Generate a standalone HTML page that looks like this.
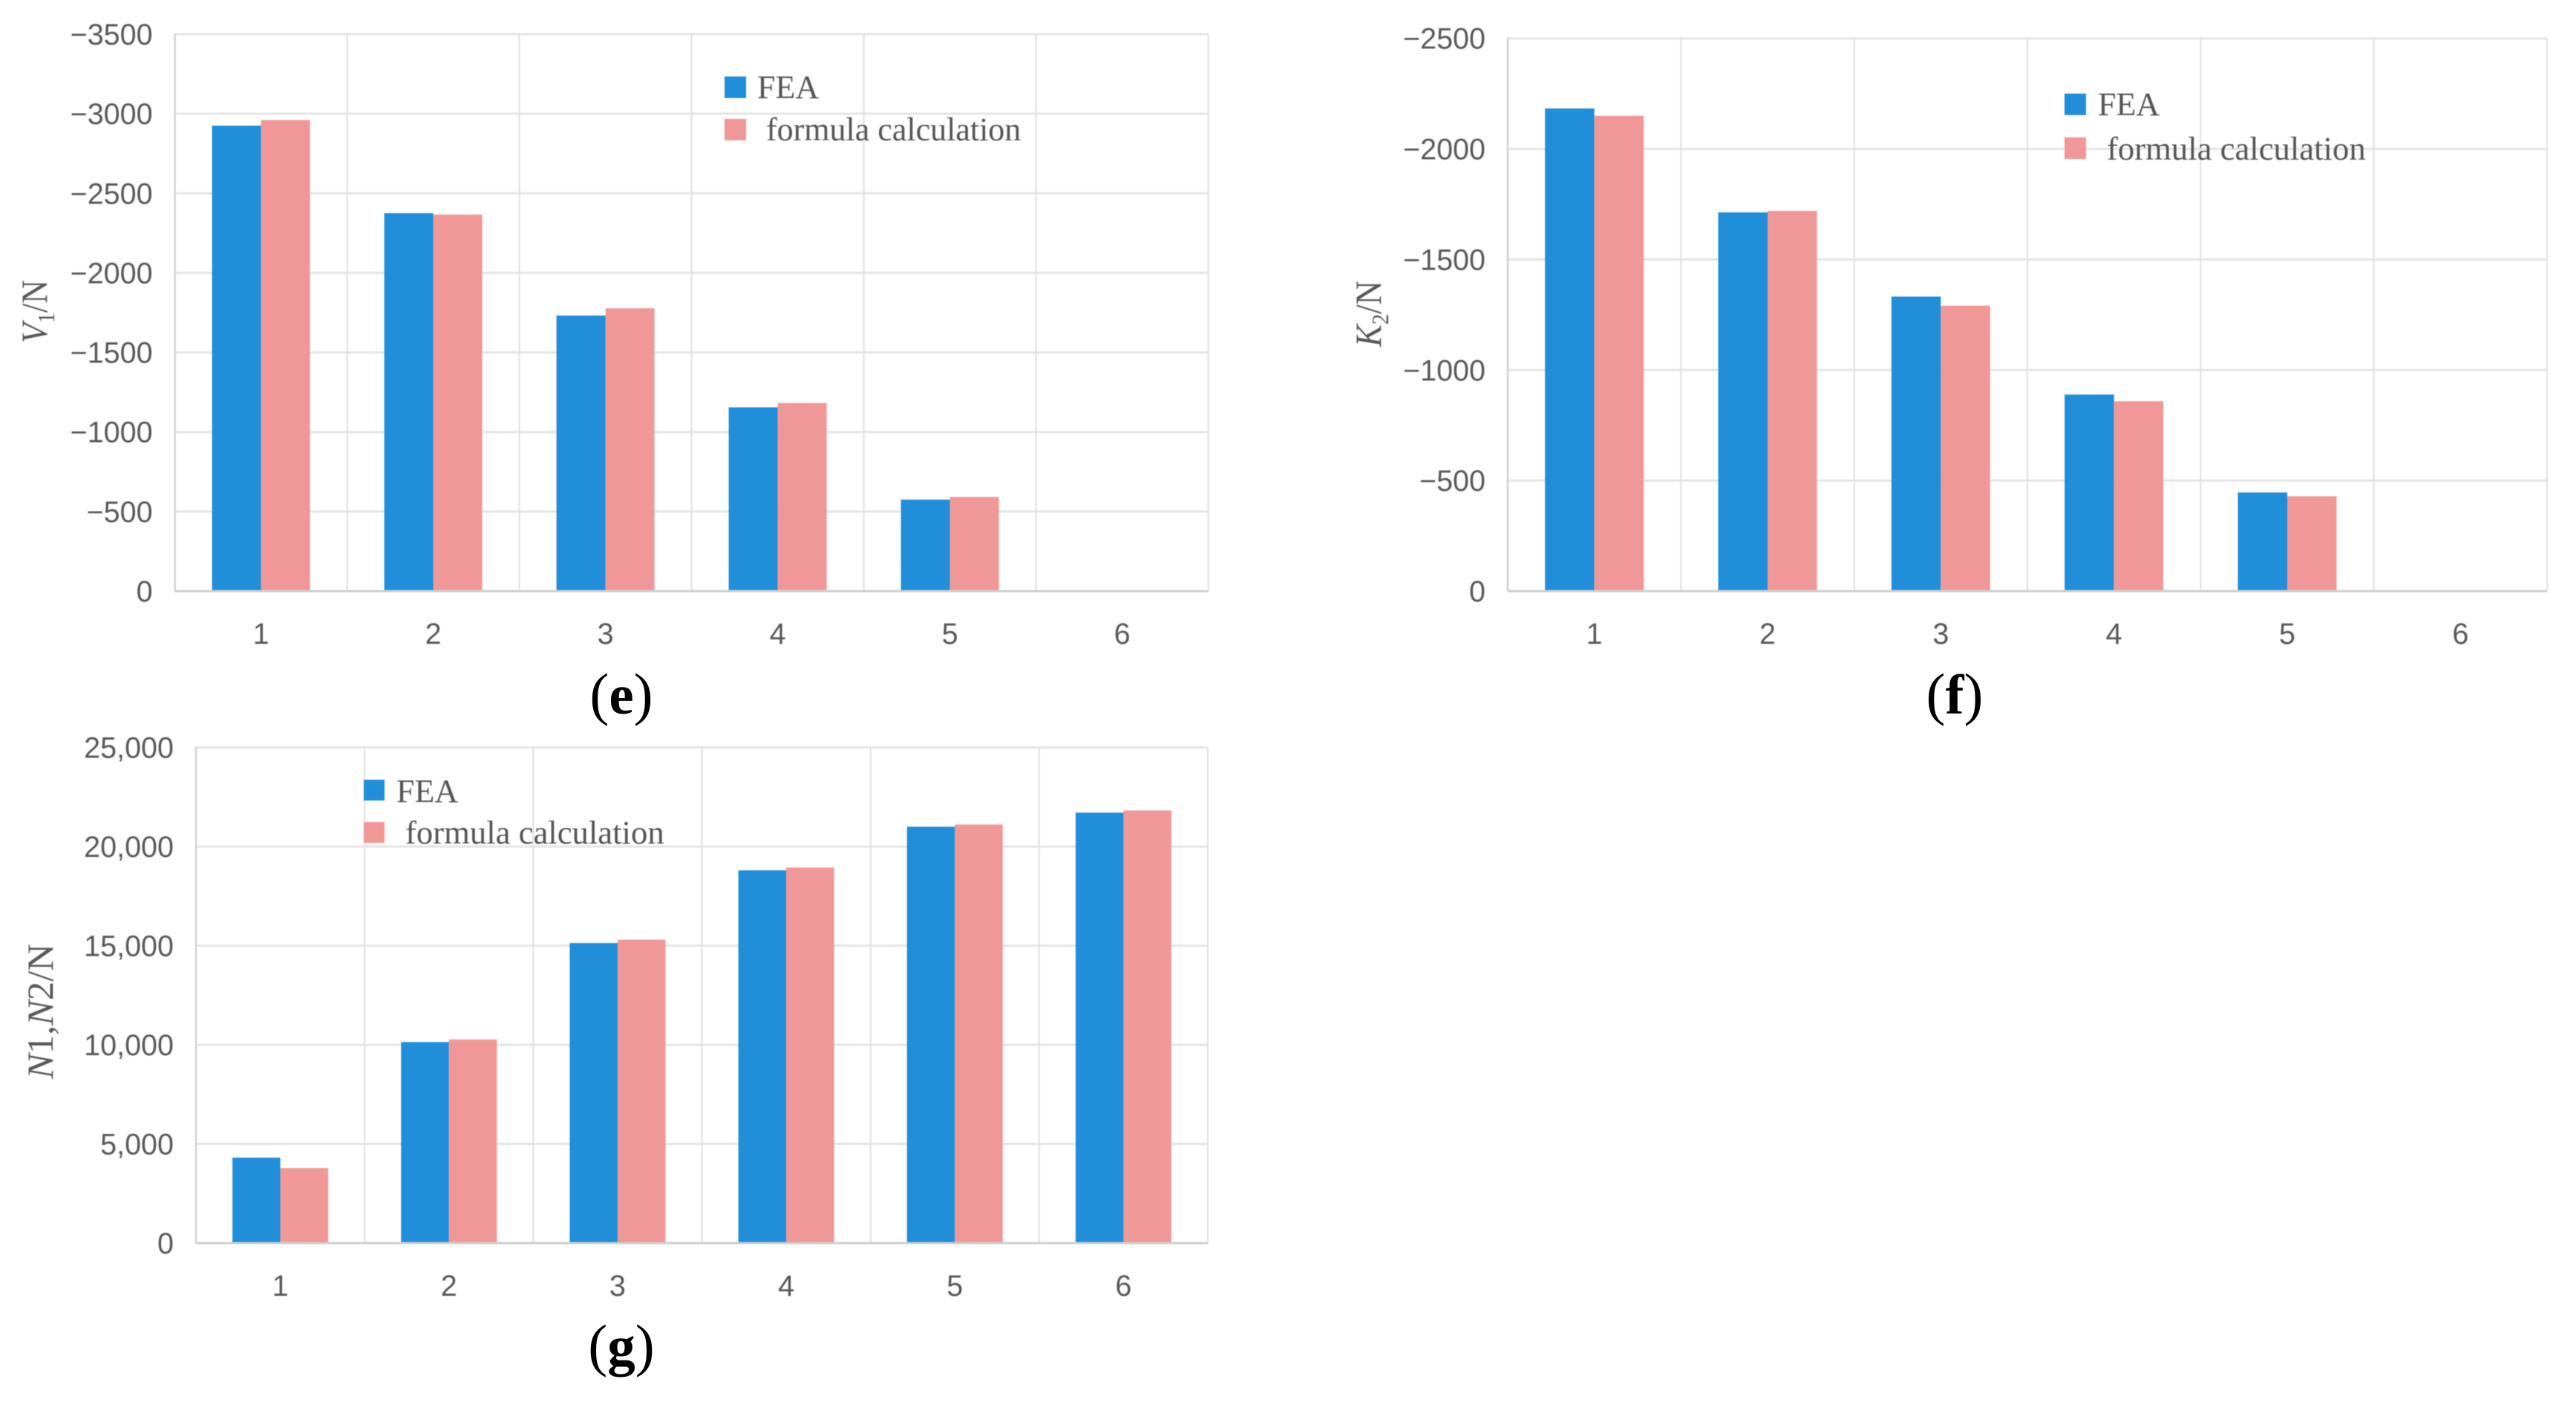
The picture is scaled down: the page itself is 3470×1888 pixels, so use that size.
<!DOCTYPE html>
<html lang="en">
<head>
<meta charset="utf-8">
<title>FEA vs formula calculation bar charts</title>
<style>
html,body{margin:0;padding:0;background:#fff;width:3470px;height:1888px;overflow:hidden}
svg{display:block}
svg g,.ytitle{filter:blur(0.6px)}
.tick{font-family:"Liberation Sans",sans-serif;font-size:39.5px;fill:#595959}
.legend{font-family:"Liberation Serif",serif;font-size:44px;fill:#555}
.ytitle{font-family:"Liberation Serif",serif;font-size:50px;fill:#595959}
.panel{font-family:"Liberation Serif",serif;font-size:78px;font-weight:normal;fill:#000;text-anchor:middle}
.panel tspan{font-size:75px;font-weight:bold}
</style>
</head>
<body>
<svg id="figure" xmlns="http://www.w3.org/2000/svg" width="3470" height="1888" viewBox="0 0 3470 1888">
  <rect width="3470" height="1888" fill="#ffffff"/>
  <g id="chart-e"></g>
  <g id="chart-f"></g>
  <g id="chart-g"></g>

  <g>
    <rect x="976" y="103" width="29" height="29" fill="#208ED8"/>
    <text class="legend" x="1020" y="132">FEA</text>
    <rect x="976" y="160" width="29" height="29" fill="#F09898"/>
    <text class="legend" x="1032" y="189">formula calculation</text>
  </g>
  <g>
    <rect x="2781" y="126" width="29" height="29" fill="#208ED8"/>
    <text class="legend" x="2826" y="155">FEA</text>
    <rect x="2781" y="185" width="29" height="29" fill="#F09898"/>
    <text class="legend" x="2838" y="215" style="font-size:44.7px">formula calculation</text>
  </g>
  <g>
    <rect x="490" y="1050" width="28" height="28" fill="#208ED8"/>
    <text class="legend" x="534" y="1080">FEA</text>
    <rect x="490" y="1107" width="28" height="28" fill="#F09898"/>
    <text class="legend" x="546" y="1136" style="font-size:44.7px">formula calculation</text>
  </g>

  <text class="ytitle" transform="translate(63,462) rotate(-90)" textLength="85" lengthAdjust="spacingAndGlyphs"><tspan font-style="italic">V</tspan><tspan font-size="32" dy="10">1</tspan><tspan dy="-10">/N</tspan></text>
  <text class="ytitle" transform="translate(1860,467) rotate(-90)" textLength="89" lengthAdjust="spacingAndGlyphs"><tspan font-style="italic">K</tspan><tspan font-size="32" dy="10">2</tspan><tspan dy="-10">/N</tspan></text>
  <text class="ytitle" transform="translate(71,1453) rotate(-90)" textLength="182" lengthAdjust="spacingAndGlyphs"><tspan font-style="italic">N</tspan>1,<tspan font-style="italic">N</tspan>2/N</text>

  <text class="panel" x="837" y="961">(<tspan>e</tspan>)</text>
  <text class="panel" x="2633" y="961">(<tspan>f</tspan>)</text>
  <text class="panel" x="837" y="1838">(<tspan>g</tspan>)</text>
</svg>

<script>
// Shared categories
const categories = ['1', '2', '3', '4', '5', '6'];

// Chart (e)
const feaE = [-2925, -2375, -1732, -1155, -575, 0];
const formulaE = [-2960, -2366, -1777, -1182, -592, 0];
const tickValuesE = [0, -500, -1000, -1500, -2000, -2500, -3000, -3500];
const tickLabelsE = ['0', '\u2212500', '\u22121000', '\u22121500', '\u22122000', '\u22122500', '\u22123000', '\u22123500'];

// Chart (f)
const feaF = [-2183, -1713, -1332, -889, -446, 0];
const formulaF = [-2150, -1720, -1291, -859, -429, 0];
const tickValuesF = [0, -500, -1000, -1500, -2000, -2500];
const tickLabelsF = ['0', '\u2212500', '\u22121000', '\u22121500', '\u22122000', '\u22122500'];

// Chart (g)
const feaG = [4310, 10140, 15130, 18800, 21000, 21710];
const formulaG = [3780, 10270, 15300, 18940, 21110, 21820];
const tickValuesG = [0, 5000, 10000, 15000, 20000, 25000];
const tickLabelsG = ['0', '5,000', '10,000', '15,000', '20,000', '25,000'];

const SVG_NS = 'http://www.w3.org/2000/svg';

function make(parent, tag, attrs, text) {
  const el = document.createElementNS(SVG_NS, tag);
  for (const k in attrs) el.setAttribute(k, attrs[k]);
  if (text !== undefined) el.textContent = text;
  parent.appendChild(el);
  return el;
}

function drawChart(groupId, frame, cats, fea, formula, tickValues, tickLabels) {
  const g = document.getElementById(groupId);
  const suffix = groupId.replace('chart-', '');
  const domainEnd = tickValues[tickValues.length - 1];
  const plotH = frame.bottom - frame.top;
  const plotW = frame.right - frame.left;
  const yOf = function (v) { return frame.bottom - (v / domainEnd) * plotH; };
  const band = plotW / cats.length;
  const xOf = function (i) { return frame.left + band * i; };

  // horizontal gridlines + y tick labels
  tickValues.forEach(function (v, i) {
    const y = yOf(v);
    if (v !== 0) {
      const line = make(g, 'line', { x1: frame.left, x2: frame.right, y1: y, y2: y, stroke: '#e5e5e5', 'stroke-width': 3 });
      
      
    }
    const label = make(g, 'text', { class: 'tick', x: frame.left - 30, y: y + 14, 'text-anchor': 'end' }, tickLabels[i]);
    
    
  });

  // vertical gridlines
  for (let i = 1; i <= cats.length; i++) {
    const x = xOf(i);
    const vline = make(g, 'line', { x1: x, x2: x, y1: frame.top, y2: frame.bottom, stroke: '#e2e2e2', 'stroke-width': 2.2 });
    
    
  }

  // axes
  const leftAxis = make(g, 'line', { x1: frame.left, x2: frame.left, y1: frame.top - 1, y2: frame.bottom, stroke: '#d2d2d2', 'stroke-width': 2.6 });
  
  

  // bars + category labels
  cats.forEach(function (c, i) {
    const center = xOf(i) + band / 2;
    const y0 = yOf(0);
    const yFea = yOf(fea[i]);
    const yFormula = yOf(formula[i]);
    const barFea = make(g, 'rect', { x: center - frame.barW, y: yFea, width: frame.barW, height: y0 - yFea, fill: '#208ED8' });
    
    
    const barFormula = make(g, 'rect', { x: center, y: yFormula, width: frame.barW, height: y0 - yFormula, fill: '#F09898' });
    
    
    const catLabel = make(g, 'text', { class: 'tick', x: center, y: frame.bottom + frame.catOffset, 'text-anchor': 'middle' }, c);
    
    
  });

  const baseAxis = make(g, 'line', { x1: frame.left, x2: frame.right, y1: frame.bottom, y2: frame.bottom, stroke: '#cfcfcf', 'stroke-width': 3 });
  
  
}

drawChart('chart-e', { left: 235.6, right: 1627.6, top: 46, bottom: 796, barW: 66, catOffset: 71 }, categories, feaE, formulaE, tickValuesE, tickLabelsE);
drawChart('chart-f', { left: 2031, right: 3431, top: 51.7, bottom: 796, barW: 66.5, catOffset: 71 }, categories, feaF, formulaF, tickValuesF, tickLabelsF);
drawChart('chart-g', { left: 264, right: 1627, top: 1006.5, bottom: 1674, barW: 64.5, catOffset: 71 }, categories, feaG, formulaG, tickValuesG, tickLabelsG);
</script>
</body>
</html>
